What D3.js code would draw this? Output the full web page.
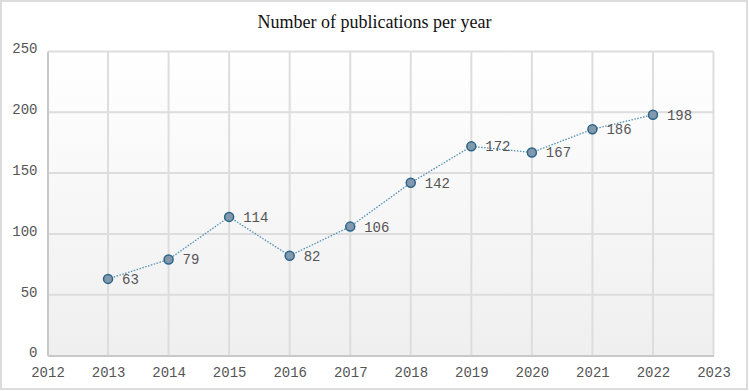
<!DOCTYPE html>
<html lang="en">
<head>
<meta charset="UTF-8"/>
<title>Number of publications per year</title>
<script src="https://d3js.org/d3.v7.min.js"></script>
<style>
  body { margin: 0; background: #fff; }
</style>
</head>
<body>
<div id="chart"></div>
<script>
    // Data
    var years = [2013, 2014, 2015, 2016, 2017, 2018, 2019, 2020, 2021, 2022];
    var counts = [63, 79, 114, 82, 106, 142, 172, 167, 186, 198];
    var xTicks = [2012, 2013, 2014, 2015, 2016, 2017, 2018, 2019, 2020, 2021, 2022, 2023];
    var yTicks = [0, 50, 100, 150, 200, 250];
    var title = "Number of publications per year";

    // Size (plot area edges)
    var w = 749, h = 391;
    var plotL = 47.5, plotR = 713.5, plotT = 51.5, plotB = 355.5;

    var svg = d3.select("#chart").append("svg")
        .attr("width", w)
        .attr("height", h);

    var defs = svg.append("defs");
    var grad = defs.append("linearGradient")
        .attr("id", "bg").attr("x1", 0).attr("y1", 0).attr("x2", 0).attr("y2", 1);
    grad.append("stop").attr("offset", "0%").attr("stop-color", "#ffffff");
    grad.append("stop").attr("offset", "100%").attr("stop-color", "#efefef");

    // outer frame
    svg.append("rect")
        .attr("x", 1).attr("y", 1).attr("width", w - 3).attr("height", h - 3)
        .attr("fill", "#fff").attr("stroke", "#dcdcdc").attr("stroke-width", 2);

    var xScale = d3.scaleLinear().domain([2012, 2023]).range([plotL, plotR]);
    var yScale = d3.scaleLinear().domain([0, 250]).range([plotB, plotT]);

    // plot background
    svg.append("rect")
        .attr("x", plotL).attr("y", plotT)
        .attr("width", plotR - plotL).attr("height", plotB - plotT)
        .attr("fill", "url(#bg)");

    // grid
    svg.append("g").selectAll("line")
        .data(xTicks.slice(1))
        .enter().append("line")
        .attr("x1", function(d) { return xScale(d); })
        .attr("x2", function(d) { return xScale(d); })
        .attr("y1", plotT).attr("y2", plotB)
        .attr("stroke", "#dddddd").attr("stroke-width", 2);

    svg.append("g").selectAll("line")
        .data(yTicks.slice(1))
        .enter().append("line")
        .attr("x1", plotL).attr("x2", plotR)
        .attr("y1", function(d) { return yScale(d); })
        .attr("y2", function(d) { return yScale(d); })
        .attr("stroke", "#dddddd").attr("stroke-width", 2);

    // axes
    var xAxis = d3.axisBottom(xScale).tickValues(xTicks).tickFormat(d3.format("d")).tickSize(0).tickPadding(12);
    var yAxis = d3.axisLeft(yScale).tickValues(yTicks).tickSize(0).tickPadding(10);

    var gx = svg.append("g")
        .attr("transform", "translate(0," + plotB + ")")
        .call(xAxis);
    var gy = svg.append("g")
        .attr("transform", "translate(" + plotL + ",0)")
        .call(yAxis);

    [gx, gy].forEach(function(g) {
        g.select(".domain").attr("stroke", "#c8c8c8").attr("stroke-width", 2);
        g.selectAll("text")
            .attr("font-family", "'Liberation Mono', 'DejaVu Sans Mono', monospace")
            .attr("font-size", "14px")
            .attr("fill", "#555");
    });
    gy.selectAll("text").attr("dy", "0.1em");

    // line
    var pts = years.map(function(y, i) { return [y, counts[i]]; });
    var line = d3.line()
        .x(function(d) { return xScale(d[0]); })
        .y(function(d) { return yScale(d[1]); });

    svg.append("path")
        .datum(pts)
        .attr("d", line)
        .attr("fill", "none")
        .attr("stroke", "#4f8fb5")
        .attr("stroke-width", 1.3)
        .attr("stroke-dasharray", "1.5,1.5");

    svg.selectAll("circle.pt")
        .data(pts)
        .enter().append("circle")
        .attr("class", "pt")
        .attr("cx", function(d) { return xScale(d[0]); })
        .attr("cy", function(d) { return yScale(d[1]); })
        .attr("r", 4.5)
        .attr("fill", "#8299ad")
        .attr("stroke", "#2a6489")
        .attr("stroke-width", 1.5);

    svg.selectAll("text.lbl")
        .data(pts)
        .enter().append("text")
        .attr("class", "lbl")
        .text(function(d) { return d[1]; })
        .attr("x", function(d) { return xScale(d[0]) + 14; })
        .attr("y", function(d) { return yScale(d[1]); })
        .attr("dy", "0.35em")
        .attr("font-family", "'Liberation Mono', 'DejaVu Sans Mono', monospace")
        .attr("font-size", "14px")
        .attr("fill", "#555");

    // title
    svg.append("text")
        .attr("x", w / 2).attr("y", 28)
        .attr("text-anchor", "middle")
        .attr("font-family", "'Liberation Serif', 'Times New Roman', serif")
        .attr("font-size", "18px")
        .attr("fill", "#111")
        .text(title);
</script>
</body>
</html>
